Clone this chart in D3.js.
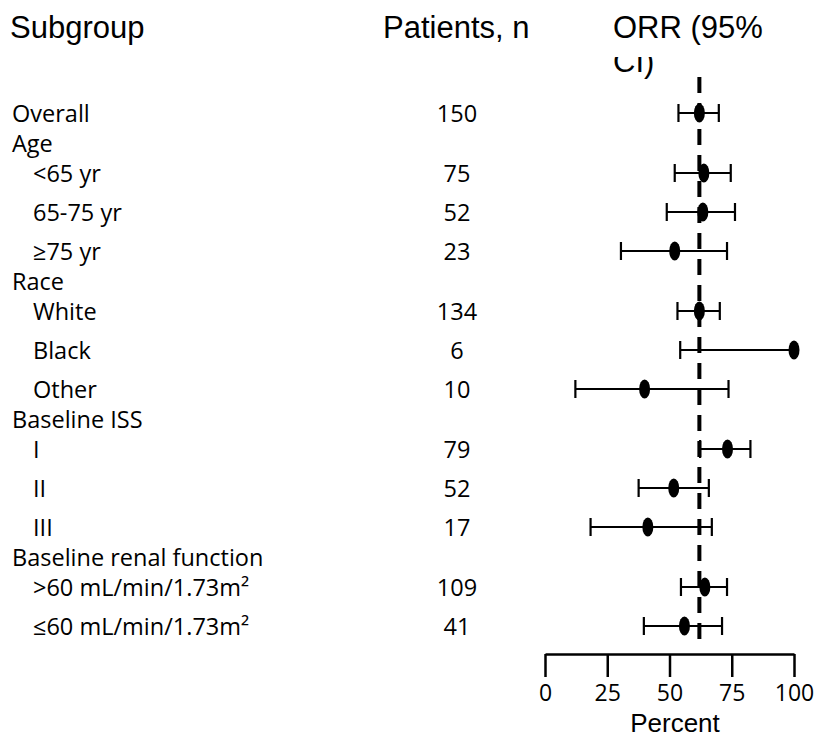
<!DOCTYPE html>
<html>
<head>
  <meta charset="utf-8">
  <title>ORR forest plot</title>
  <script src="https://d3js.org/d3.v7.min.js"></script>
  <style>
    body { margin: 0; background: #fff; }
    svg text { fill: #000; }
    .head { font-family: "Liberation Sans", Arial, sans-serif; font-size: 31px; }
    .row { font-family: "Open Sans", sans-serif; font-size: 23.5px; }
    .axis text { font-family: "Open Sans", sans-serif; font-size: 23px; }
  </style>
</head>
<body>
  <script>
    // rows of the table, level 0 = group heading, 1 = indented subgroup
    var subgroups = ["Overall", "Age", "<65 yr", "65-75 yr", "≥75 yr", "Race", "White", "Black", "Other",
      "Baseline ISS", "I", "II", "III", "Baseline renal function", ">60 mL/min/1.73m²", "≤60 mL/min/1.73m²"];
    var level = [0, 0, 1, 1, 1, 0, 1, 1, 1, 0, 1, 1, 1, 0, 1, 1];
    var patients = [150, null, 75, 52, 23, null, 134, 6, 10, null, 79, 52, 17, null, 109, 41];
    var orr = [62, null, 63.8, 63.4, 52.1, null, 62, 100, 40, null, 73.3, 51.7, 41.3, null, 64.2, 56];
    var ciLow = [53.6, null, 52.1, 48.9, 30.5, null, 53.2, 54.3, 12.2, null, 62.3, 37.6, 18.3, null, 54.6, 39.7];
    var ciHigh = [69.8, null, 74.6, 76.3, 73.1, null, 70.2, 100, 73.7, null, 82.5, 65.8, 67, null, 73.1, 71.1];
    var overallOrr = 62;
    var xTicks = [0, 25, 50, 75, 100];

    var width = 816, height = 739;

    var svg = d3.select("body").append("svg")
      .attr("width", width)
      .attr("height", height);

    var x = d3.scaleLinear().domain([0, 100]).range([545, 794]);

    // baseline of each row, spacing depends on row type
    var baseY = [];
    var y0 = 122;
    subgroups.forEach(function(s, i) {
      if (i == 0) { baseY.push(y0); return; }
      var gap;
      if (level[i] == 0) gap = 30;
      else if (level[i - 1] == 0) gap = 30;
      else gap = 39;
      baseY.push(baseY[i - 1] + gap);
    });

    var rows = subgroups.map(function(s, i) {
      return { name: s, level: level[i], n: patients[i], orr: orr[i], lo: ciLow[i], hi: ciHigh[i], y: baseY[i] };
    });

    // headers
    svg.append("text").attr("class", "head").attr("x", 10).attr("y", 38).text("Subgroup");
    svg.append("text").attr("class", "head").attr("x", 383).attr("y", 38).text("Patients, n");
    svg.append("text").attr("class", "head").attr("x", 613).attr("y", 38).text("ORR (95%");
    svg.append("clipPath").attr("id", "ciclip")
      .append("rect").attr("x", 600).attr("y", 57).attr("width", 100).attr("height", 30);
    svg.append("text").attr("class", "head").attr("x", 613).attr("y", 72)
      .attr("clip-path", "url(#ciclip)").text("CI)");

    // labels and counts
    svg.selectAll("text.label").data(rows).enter().append("text")
      .attr("class", "row label")
      .attr("x", function(d) { return d.level ? 33 : 12; })
      .attr("y", function(d) { return d.y; })
      .text(function(d) { return d.name; });

    svg.selectAll("text.count").data(rows.filter(function(d) { return d.n != null; })).enter().append("text")
      .attr("class", "row count")
      .attr("x", 457)
      .attr("y", function(d) { return d.y; })
      .attr("text-anchor", "middle")
      .text(function(d) { return d.n; });

    // reference line at overall ORR
    svg.append("line")
      .attr("x1", x(overallOrr)).attr("x2", x(overallOrr))
      .attr("y1", 77).attr("y2", 640)
      .attr("stroke", "#000")
      .attr("stroke-width", 4)
      .attr("stroke-dasharray", "16,10");

    var est = rows.filter(function(d) { return d.orr != null; });
    var g = svg.selectAll("g.est").data(est).enter().append("g")
      .attr("class", "est")
      .attr("transform", function(d) { return "translate(0," + (d.y - 9) + ")"; });

    g.append("line")
      .attr("x1", function(d) { return x(d.lo); })
      .attr("x2", function(d) { return x(d.hi); })
      .attr("stroke", "#000").attr("stroke-width", 2.2);
    g.append("line")
      .attr("x1", function(d) { return x(d.lo); }).attr("x2", function(d) { return x(d.lo); })
      .attr("y1", -9).attr("y2", 9)
      .attr("stroke", "#000").attr("stroke-width", 2.2);
    g.append("line")
      .attr("x1", function(d) { return x(d.hi); }).attr("x2", function(d) { return x(d.hi); })
      .attr("y1", -9).attr("y2", 9)
      .attr("stroke", "#000").attr("stroke-width", 2.2);
    g.append("ellipse")
      .attr("cx", function(d) { return x(d.orr); })
      .attr("cy", 0)
      .attr("rx", 5.5).attr("ry", 9.5)
      .attr("fill", "#000");

    // x axis
    var axis = svg.append("g").attr("class", "axis")
      .attr("transform", "translate(0,654)")
      .call(d3.axisBottom(x).tickValues(xTicks).tickSize(23).tickSizeOuter(0).tickPadding(8));
    axis.selectAll("path, line").attr("stroke", "#000").attr("stroke-width", 2.5);
    axis.selectAll("text").attr("fill", "#000");

    svg.append("text").attr("class", "head")
      .style("font-size", "26px")
      .attr("x", 675).attr("y", 732)
      .attr("text-anchor", "middle")
      .text("Percent");
  </script>
</body>
</html>
